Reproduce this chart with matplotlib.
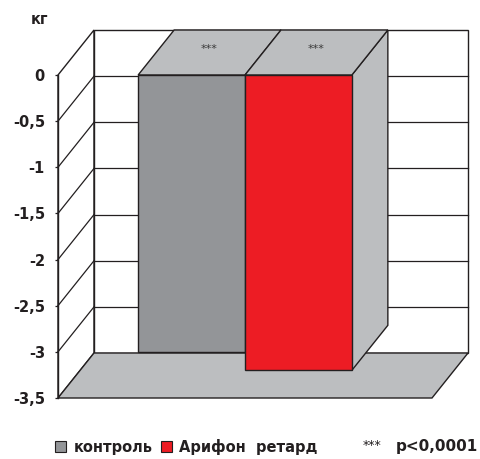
import matplotlib
matplotlib.use("Agg")
import matplotlib.pyplot as plt
from matplotlib.patches import Polygon, Patch
from matplotlib.ticker import FuncFormatter

# данные: изменение массы тела, кг
groups = ["контроль", "Арифон  ретард"]
values = [-3.0, -3.2]
stars = ["***", "***"]
y_ticks = [0, -0.5, -1, -1.5, -2, -2.5, -3, -3.5]
p_stars = "***"
p_note = "p<0,0001"

FRONT = ["#939598", "#ed1c24"]
SHADE = "#bcbec0"
LINE = "#231f20"
TEXT = "#231f20"

plt.rcParams["font.family"] = ["DejaVu Sans"]

W, H = 480, 459
fig = plt.figure(figsize=(W / 100, H / 100), dpi=100)
fig.patch.set_facecolor("white")

# передняя плоскость диаграммы
ax = fig.add_axes([58 / W, (H - 398) / H, 374 / W, 323 / H])
ax.set_xlim(0, 3.5)
ax.set_ylim(-3.5, 0)

# смещение в глубину (в единицах данных)
DX = 36 / (374 / 3.5)
DY = 45 / (323 / 3.5)
ymin, ymax = -3.5, 0
xmax = 3.5


def face(pts, fc, z, lw=1.0):
    ax.add_patch(Polygon(pts, closed=True, facecolor=fc, edgecolor=LINE,
                         linewidth=lw, clip_on=False, zorder=z,
                         joinstyle="miter"))


# левая стенка
face([(0, ymin), (0, ymax), (DX, ymax + DY), (DX, ymin + DY)], "white", 1)
for v in y_ticks[1:-1]:
    ax.plot([0, DX], [v, v + DY], color=LINE, lw=0.9, clip_on=False, zorder=1.1)

# задняя стенка
face([(DX, ymin + DY), (DX, ymax + DY), (xmax + DX, ymax + DY),
      (xmax + DX, ymin + DY)], "white", 1)
for v in y_ticks[1:-1]:
    ax.plot([DX, xmax + DX], [v + DY, v + DY], color=LINE, lw=0.9,
            clip_on=False, zorder=1.1)

# пол
face([(0, ymin), (xmax, ymin), (xmax + DX, ymin + DY), (DX, ymin + DY)],
     SHADE, 1.2)

# столбцы
width = 1.0
x_left = [0.75 + i * width for i in range(len(values))]
for i, (x0, v) in enumerate(zip(x_left, values)):
    x1 = x0 + width
    z = 2 + i
    face([(x1, v), (x1, 0), (x1 + DX, DY), (x1 + DX, v + DY)], SHADE, z)
    face([(x0, 0), (x1, 0), (x1 + DX, DY), (x0 + DX, DY)], SHADE, z)
    face([(x0, v), (x1, v), (x1, 0), (x0, 0)], FRONT[i], z + 0.1)
    ax.text(x0 + width / 2 + DX / 2, DY * 0.58, stars[i], ha="center",
            va="center", fontsize=8, color="#3a3a3a", zorder=z + 0.2)

# ось значений
ax.set_yticks(y_ticks)
ax.yaxis.set_major_formatter(
    FuncFormatter(lambda v, _: f"{v:g}".replace(".", ",")))
ax.set_xticks([])
for s in ["top", "right", "bottom"]:
    ax.spines[s].set_visible(False)
ax.spines["left"].set_color(LINE)
ax.spines["left"].set_linewidth(1.0)
ax.spines["left"].set_zorder(5)
ax.tick_params(axis="y", direction="out", length=2.4, width=0.9,
               color=LINE, pad=7, labelsize=10.5, labelcolor=TEXT)
for lab in ax.get_yticklabels():
    lab.set_fontweight("bold")
ax.patch.set_visible(False)

fig.text(39 / W, 1 - 19 / H, "кг", ha="center", va="center",
         fontsize=10.5, fontweight="bold", color=TEXT)

# легенда
handles = [Patch(facecolor=c, edgecolor=LINE, linewidth=0.8) for c in FRONT]
leg = fig.legend(handles, groups, loc="center left",
                 bbox_to_anchor=(55 / W, 1 - 447 / H), ncol=2, frameon=False,
                 handlelength=0.78, handleheight=0.78, handletextpad=0.5,
                 columnspacing=0.55, borderpad=0, borderaxespad=0,
                 prop={"size": 10.5, "weight": "bold"})
for t in leg.get_texts():
    t.set_color(TEXT)
fig.text(363 / W, 1 - 445 / H, p_stars, ha="left", va="center",
         fontsize=9, color=TEXT)
fig.text(478 / W, 1 - 447 / H, p_note, ha="right", va="center",
         fontsize=11, fontweight="bold", color=TEXT)

fig.savefig("out.png", dpi=100, facecolor="white")
